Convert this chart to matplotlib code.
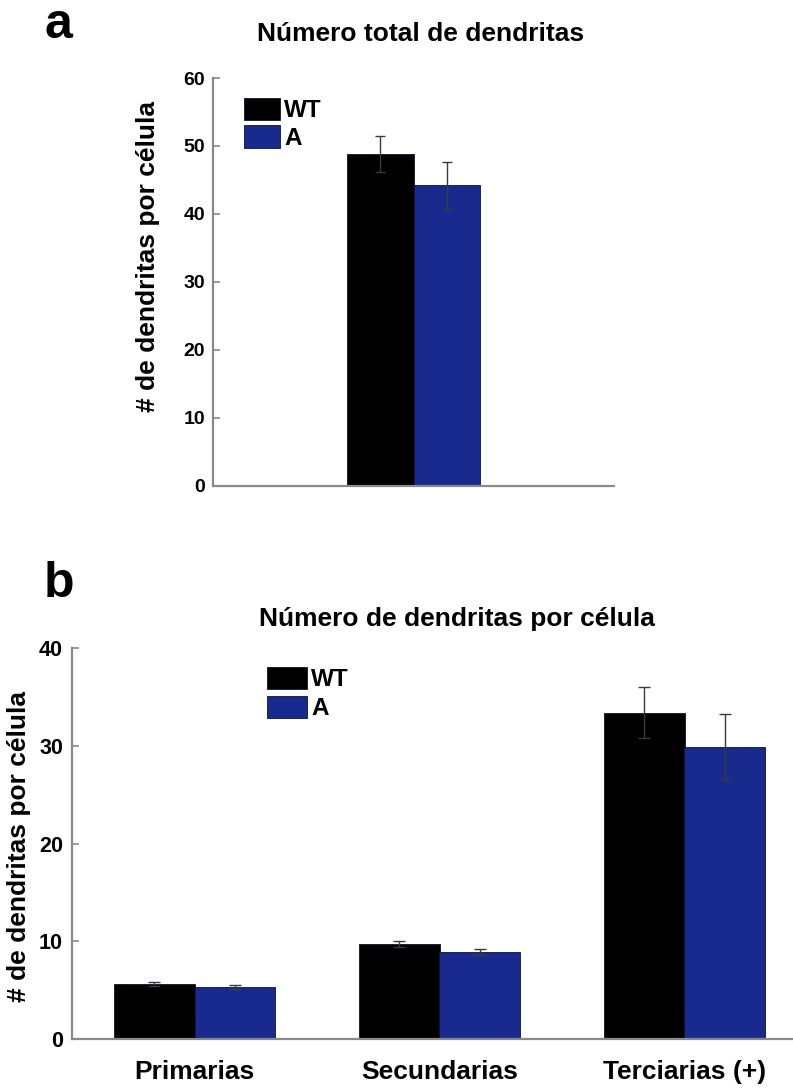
import matplotlib
matplotlib.use("Agg")
import matplotlib.pyplot as plt
import numpy as np

plt.rcParams['font.family'] = ['Liberation Sans', 'DejaVu Sans']
plt.rcParams['font.weight'] = 'bold'

# ---- data ----
groups = ["WT", "A"]
colors = ["#000000", "#182a8e"]

total_categories = [""]
total_means = {"WT": [48.8], "A": [44.2]}
total_errs = {"WT": [2.6], "A": [3.5]}
total_yticks = [0, 10, 20, 30, 40, 50, 60]

order_categories = ["Primarias", "Secundarias", "Terciarias (+)"]
order_means = {"WT": [5.65, 9.7, 33.4], "A": [5.35, 8.9, 29.9]}
order_errs = {"WT": [0.25, 0.3, 2.6], "A": [0.18, 0.3, 3.4]}
order_yticks = [0, 10, 20, 30, 40]

title_a = "Número total de dendritas"
title_b = "Número de dendritas por célula"
ylabel = "# de dendritas por célula"

W, H = 793, 1088
fig = plt.figure(figsize=(W / 100, H / 100), dpi=100)

axis_gray = "#8a8a8a"


def fx(px):
    return px / W


def fy(py):
    return 1 - py / H


def style_axes(ax, ticksize, pad):
    for s in ["top", "right"]:
        ax.spines[s].set_visible(False)
    for s in ["left", "bottom"]:
        ax.spines[s].set_color(axis_gray)
        ax.spines[s].set_linewidth(1.6)
    ax.tick_params(axis="y", direction="in", length=5, width=1.2, color=axis_gray,
                   labelsize=ticksize, pad=pad)
    ax.tick_params(axis="x", length=0)


def draw_bars(ax, x, width, means, errs, capsize):
    handles = []
    for i, g in enumerate(groups):
        pos = x + (i - 0.5) * width
        b = ax.bar(pos, means[g], width=width, color=colors[i], edgecolor="#111133",
                   linewidth=0.6, label=g, zorder=2)
        ax.errorbar(pos, means[g], yerr=errs[g], fmt="none", ecolor="#3a3a3a",
                    elinewidth=1.0, capsize=capsize, capthick=1.0, zorder=3)
        handles.append(b)
    return handles


# ---- panel a ----
ax1 = fig.add_axes([fx(213), fy(485.5), fx(614 - 213), (485.5 - 78) / H])
x1 = np.arange(len(total_categories)) + 1
h1 = draw_bars(ax1, x1, 0.165, total_means, total_errs, 3.5)
ax1.set_xlim(0.5, 1.5)
ax1.set_ylim(0, 60)
ax1.set_yticks(total_yticks)
ax1.set_xticks([])
style_axes(ax1, 14, 5.5)
ax1.legend(handles=h1, labels=groups, loc="upper left", bbox_to_anchor=(0.077, 0.952),
           frameon=False, borderpad=0, borderaxespad=0,
           handlelength=1.5, handleheight=1.05, handletextpad=0.15, labelspacing=0.12,
           prop={"weight": "bold", "size": 17.5})

# ---- panel b ----
ax2 = fig.add_axes([fx(72), fy(1039.3), fx(793 - 72), (1039.3 - 648) / H])
x2 = np.arange(len(order_categories)) + 1
h2 = draw_bars(ax2, x2, 0.327, order_means, order_errs, 4)
ax2.set_xlim(0.5, 0.5 + 721 / 245)
ax2.set_ylim(0, 40)
ax2.set_yticks(order_yticks)
ax2.set_xticks(x2)
ax2.set_xticklabels(order_categories, fontsize=19, fontweight="bold")
style_axes(ax2, 15.5, 6.5)
ax2.tick_params(axis="x", pad=15)
ax2.legend(handles=h2, labels=groups, loc="upper left", bbox_to_anchor=(0.271, 0.952),
           frameon=False, borderpad=0, borderaxespad=0,
           handlelength=1.62, handleheight=1.05, handletextpad=0.17, labelspacing=0.18,
           prop={"weight": "bold", "size": 17.5})

# ---- texts ----
fig.text(fx(421), fy(41), title_a, ha="center", va="baseline", fontsize=19, fontweight="bold")
fig.text(fx(456.5), fy(626), title_b, ha="center", va="baseline", fontsize=19, fontweight="bold")
fig.text(fx(148.5), fy(256), ylabel, rotation=90, ha="center", va="center", fontsize=19,
         fontweight="bold")
fig.text(fx(19), fy(846.5), ylabel, rotation=90, ha="center", va="center", fontsize=19,
         fontweight="bold")
fig.text(fx(44), fy(38), "a", ha="left", va="baseline", fontsize=36, fontweight="bold")
fig.text(fx(44), fy(597), "b", ha="left", va="baseline", fontsize=36, fontweight="bold")

fig.savefig("out.png", dpi=100)
